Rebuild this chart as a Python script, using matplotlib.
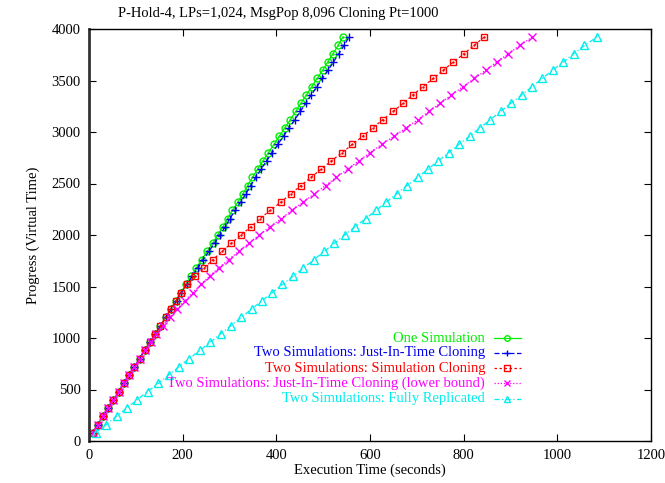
import matplotlib
matplotlib.use("Agg")
import matplotlib.pyplot as plt

plt.rcParams['font.family'] = ['Liberation Serif', 'DejaVu Serif']

# virtual time reached (y) and wall clock time (x) for each run
progreso = [80, 160, 240, 320, 400, 480, 560, 640, 720, 800,
            880, 960, 1040, 1120, 1200, 1280, 1360, 1440, 1520, 1600,
            1680, 1760, 1840, 1920, 2000, 2080, 2160, 2240, 2320, 2400,
            2480, 2560, 2640, 2720, 2800, 2880, 2960, 3040, 3120, 3200,
            3280, 3360, 3440, 3520, 3600, 3680, 3760, 3840, 3920]

una_sim = [8, 19, 30, 41, 52, 63.5, 74.5, 85.5, 97, 108,
           119, 130, 141.5, 152.5, 163.5, 174.5, 185.5, 195.5, 207, 218,
           229, 240.5, 252, 264, 275, 286, 296, 306, 318, 328.7,
           338.6, 349, 360, 371.5, 383, 395, 406.6, 418, 430, 441.4,
           452.8, 464, 475.6, 487, 499, 509.8, 521, 531.8, 541.8]

jit = [8, 19, 30, 41, 52, 63.5, 74.5, 85.5, 97, 108,
       119, 130, 141.7, 153, 164.4, 175.8, 187.1, 197.5, 209.3, 220.7,
       232.1, 243.9, 255.8, 268.1, 279.5, 290.9, 301.2, 311.6, 323.9, 335,
       345.3, 356, 367.4, 379.2, 391.1, 403.5, 415.4, 427.2, 439.5, 451.3,
       463.1, 474.6, 486.6, 498.3, 510.7, 521.9, 533.4, 544.6, 554.9]

clonacion = [8, 19, 30, 41, 52, 63.5, 74.5, 85.5, 97, 108,
             119, 130, 141.5, 152.5, 163.5, 174.5, 185.5, 195.5, 210, 227,
             246, 264.5, 284, 304, 324.5, 345.8, 365.8, 387, 410, 431,
             452.6, 474, 496, 517.6, 540.5, 562.6, 584.6, 606, 627.4, 649.6,
             671, 691.6, 713, 735, 756.6, 778, 800.7, 822, 843.4]

jit_cota = [8, 19, 30, 41, 52, 63.5, 74.5, 85.5, 97, 108,
            119.5, 131.5, 144, 157.5, 172, 187.5, 204, 221, 239, 257.4,
            276.6, 298, 319.4, 340.8, 363.6, 387, 410.7, 433.6, 457, 481,
            505, 528, 552.6, 576, 600.5, 625, 652, 677, 702, 726,
            750, 774, 798.5, 823, 847, 871, 895.5, 920, 945.5]

replicado = [14, 37, 59, 81, 103, 125, 148, 170, 192, 214,
             237, 259, 281, 303, 325, 347, 369, 391, 413, 436,
             458, 480, 502, 524, 546, 568, 591, 613, 635, 657,
             679, 702, 724, 746, 768, 790, 813, 835, 857, 879,
             901, 924, 946, 968, 990, 1013, 1035, 1058, 1084]

# nombre, datos, color, marcador, estilo de linea, punto central
series = [
    ("One Simulation", una_sim, '#00ee00', 'o', '-', True),
    ("Two Simulations: Just-In-Time Cloning", jit, '#0000ee', '+', (0, (4, 2)), False),
    ("Two Simulations: Simulation Cloning", clonacion, '#ff0000', 's', (0, (2, 2)), True),
    ("Two Simulations: Just-In-Time Cloning (lower bound)", jit_cota, '#ff00ff', 'x', (0, (1, 1.5)), False),
    ("Two Simulations: Fully Replicated", replicado, '#00eeee', '^', (0, (4, 2, 1, 2)), False),
]

fig = plt.figure(figsize=(6.65, 4.83), dpi=100)
ax = fig.add_axes([89 / 665, 42 / 483, 562 / 665, 412 / 483])

filas = [0.25, 0.214, 0.177, 0.141, 0.102]
for (nombre, xs, color, marca, estilo, punto), fy in zip(series, filas):
    tam = 5 if marca in ('o', 's') else 5.5
    ax.plot(xs, progreso, color=color, linestyle=estilo, linewidth=0.9,
            marker=marca, markersize=tam, markeredgewidth=1.0, markerfacecolor='none')
    if punto:
        ax.plot(xs, progreso, color=color, linestyle='none', marker='.', markersize=1.5)

    # leyenda manual estilo gnuplot
    ax.text(0.705, fy, nombre, transform=ax.transAxes, ha='right', va='center',
            color=color, fontsize=10.5)
    ax.plot([0.72, 0.768], [fy, fy], transform=ax.transAxes, clip_on=False,
            color=color, linestyle=estilo, linewidth=0.9)
    ax.plot([0.744], [fy], transform=ax.transAxes, clip_on=False, color=color,
            marker=marca, markersize=tam - 1, markeredgewidth=1.0,
            markerfacecolor='none', linestyle='none')

ax.set_xlim(0, 1200)
ax.set_ylim(0, 4000)
ax.set_xticks(range(0, 1201, 200))
ax.set_yticks(range(0, 4001, 500))
ax.tick_params(direction='in', top=True, right=True, length=5, width=0.8,
               labelsize=10.5, pad=6)
for s in ax.spines.values():
    s.set_linewidth(1.0)
ax.spines['left'].set_linewidth(2.0)
ax.spines['left'].set_color('#333333')

ax.set_xlabel("Execution Time (seconds)", fontsize=10.5, labelpad=1)
ax.set_ylabel("Progress (Virtual Time)", fontsize=10.5, labelpad=8)
# el titulo no esta centrado sobre los ejes en el original
fig.text(278 / 665, 1 - 14 / 483, "P-Hold-4, LPs=1,024, MsgPop 8,096 Cloning Pt=1000",
         ha='center', va='center', fontsize=10.5)

fig.savefig("out.png", dpi=100)
